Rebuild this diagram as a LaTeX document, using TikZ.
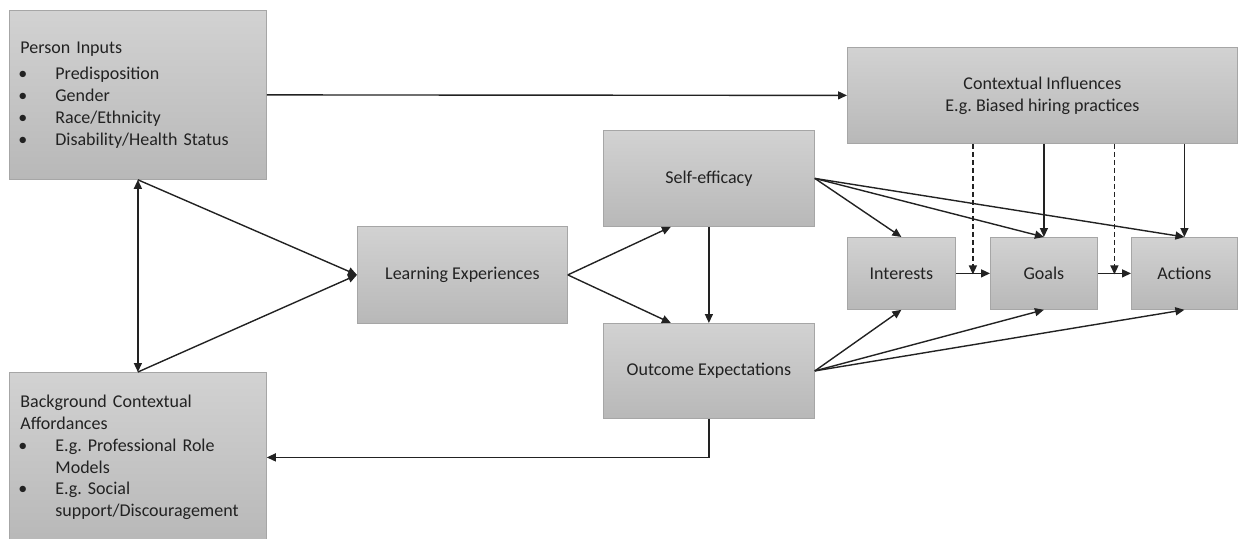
\documentclass[tikz,border=0pt]{standalone}
\usepackage{fontspec}
\setmainfont{Carlito}
\usetikzlibrary{arrows.meta,calc}
\definecolor{boxtop}{HTML}{D2D2D2}
\definecolor{boxbot}{HTML}{B8B8B8}
\definecolor{boxline}{HTML}{A6A6A6}
\definecolor{ink}{HTML}{222222}
\frenchspacing
\newcommand{\bul}{\makebox[35pt][l]{\hspace{-2pt}•}}
\begin{document}
\begin{tikzpicture}[x=1pt,y=-1pt,
  box/.style={draw=boxline,line width=0.8pt,top color=boxtop,bottom color=boxbot,
    anchor=north west,inner sep=0pt,text=ink,
    font=\fontsize{18}{21.8}\selectfont},
  conn/.style={draw=ink,line width=1.4pt,-{Triangle[length=9pt,width=8pt]}},
  dconn/.style={conn,dash pattern=on 5pt off 3pt}]
\useasboundingbox (0,0) rectangle (1238,538);
% boxes
\node[box,minimum width=257pt,minimum height=169pt,text width=235pt,align=left] (pi) at (9,10)
  {\vspace*{5pt}Person Inputs\\\bul Predisposition\\\bul Gender\\\bul Race/Ethnicity\\\bul Disability/Health Status};
\node[box,minimum width=257pt,minimum height=170pt,text width=235pt,align=left] (bg) at (9,372)
  {Background Contextual\\Affordances\\\bul E.g. Professional Role\\\hspace*{35pt}Models\\\bul E.g. Social\\\hspace*{35pt}support/Discouragement};
\node[box,minimum width=390pt,minimum height=96pt,align=center] (ci) at (847,47)
  {Contextual Influences\\E.g. Biased hiring practices};
\node[box,minimum width=210pt,minimum height=97pt] (le) at (357,226) {Learning Experiences};
\node[box,minimum width=211pt,minimum height=96pt] (se) at (603,130) {Self-efficacy};
\node[box,minimum width=211pt,minimum height=95pt] (oe) at (603,323) {Outcome Expectations};
\node[box,minimum width=108pt,minimum height=72pt] (in) at (847,237) {Interests};
\node[box,minimum width=107pt,minimum height=72pt] (go) at (990,237) {Goals};
\node[box,minimum width=106pt,minimum height=72pt] (ac) at (1131,237) {Actions};
% helper points on the short horizontal links
\coordinate (m1) at ($(in.east)!0.5!(go.west)$);
\coordinate (m2) at ($(go.east)!0.5!(ac.west)$);
% connectors
\draw[conn] (pi.east) -- (ci.west);
\draw[conn,{Triangle[length=9pt,width=8pt]}-{Triangle[length=9pt,width=8pt]}] (pi.south) -- (bg.north);
\draw[conn] (pi.south) -- (le.west);
\draw[conn] (bg.north) -- (le.west);
\draw[conn] (le.east) -- ([xshift=-38pt]se.south);
\draw[conn] (le.east) -- ([xshift=-38pt]oe.north);
\draw[conn] (se.south) -- (oe.north);
\draw[conn] (oe.south) |- (bg.east);
\draw[conn] (se.east) -- (in.north);
\draw[conn] (se.east) -- (go.north);
\draw[conn] (se.east) -- (ac.north);
\draw[conn] (oe.east) -- (in.south);
\draw[conn] (oe.east) -- (go.south);
\draw[conn] (oe.east) -- (ac.south);
\draw[conn] (ci.south -| go.north) -- (go.north);
\draw[conn] (ci.south -| ac.north) -- (ac.north);
\draw[conn] (in.east) -- (go.west);
\draw[conn] (go.east) -- (ac.west);
\draw[dconn] (ci.south -| m1) -- ([yshift=-1pt]m1);
\draw[dconn] (ci.south -| m2) -- ([yshift=-1pt]m2);
\end{tikzpicture}
\end{document}
